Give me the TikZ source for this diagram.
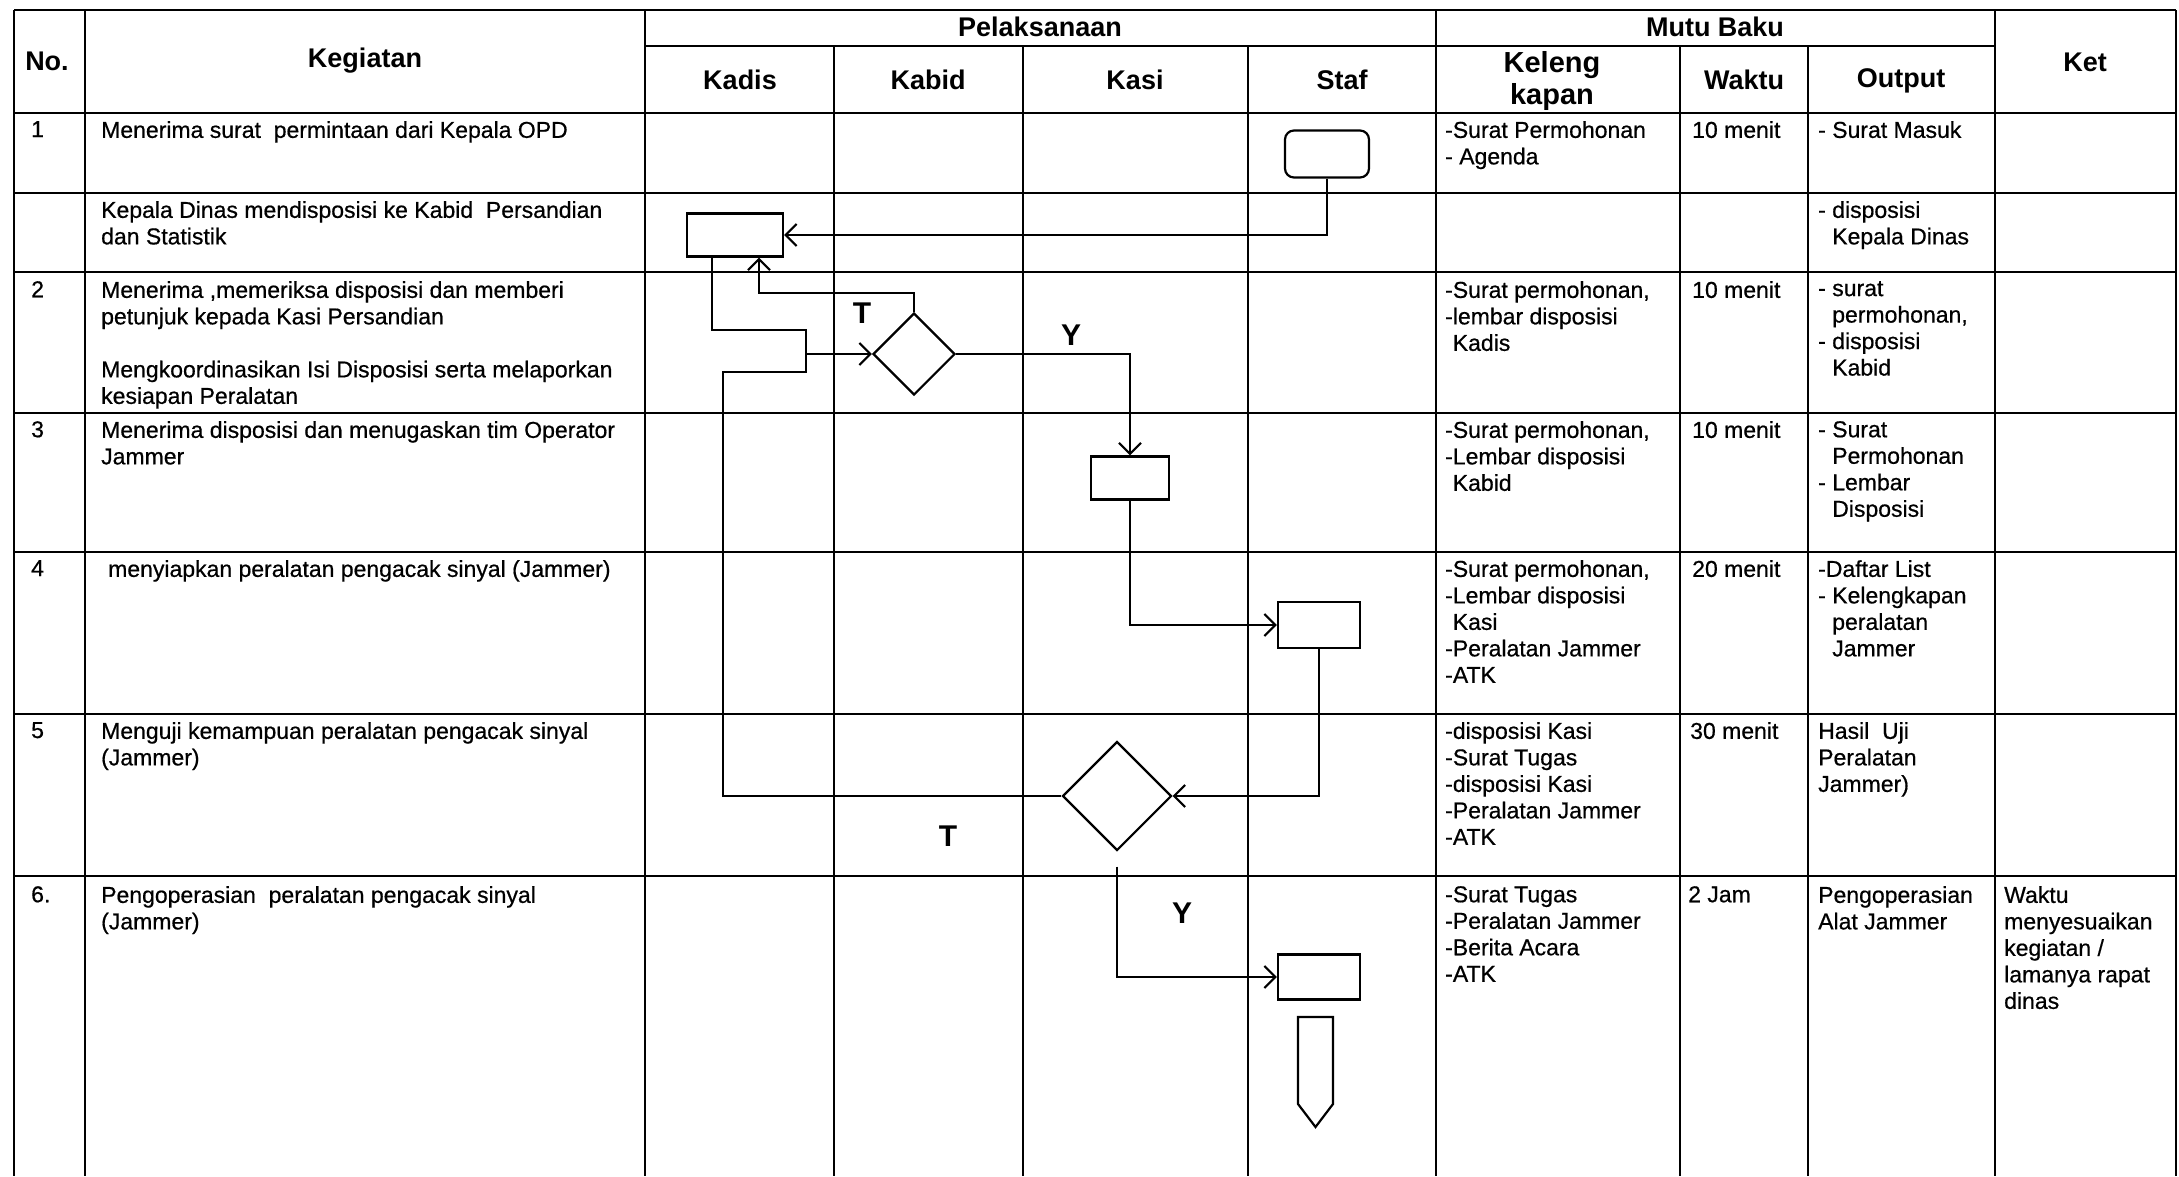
\documentclass[tikz,border=0pt]{standalone}
\usepackage{fontspec}
\setmainfont{Liberation Sans}
\newfontface\scanfont{Liberation Sans}[FakeBold=0.6]
\usetikzlibrary{arrows.meta,positioning,shapes.geometric}

\newcommand{\dashind}{\hspace*{0.61em}}
\newcommand{\hyind}{\hspace*{0.33em}}

\begin{document}
\begin{tikzpicture}[
  x=1pt, y=-1pt,
  grid/.style={line width=2.4pt},
  flow/.style={line width=2.2pt},
  arrow/.style={flow, -{Straight Barb[length=11pt, width=22pt]}},
  head/.style={font=\fontsize{27}{30}\selectfont\bfseries, align=center, inner sep=0pt},
  cell/.style={anchor=north west, align=left, inner sep=0pt, font=\fontsize{23}{26.5}\selectfont\scanfont},
  procbox/.style={draw, line width=2.2pt, inner sep=0pt, minimum width=80pt, minimum height=44pt},
  decision/.style={draw, diamond, line width=2.2pt, inner sep=0pt, minimum width=#1, minimum height=#1},
  startbox/.style={draw, rounded corners=9pt, line width=2.2pt, inner sep=0pt, minimum width=84pt, minimum height=47pt},
  lbl/.style={font=\fontsize{30}{32}\selectfont\bfseries, inner sep=0pt}
]
\useasboundingbox (0,0) rectangle (2179,1176);

% table grid
\draw[grid] (14,10) -- (2176,10);
\draw[grid] (645,46) -- (1995,46);
\draw[grid] (14,113) -- (2176,113) (14,193) -- (2176,193) (14,272) -- (2176,272)
  (14,413) -- (2176,413) (14,552) -- (2176,552) (14,714) -- (2176,714) (14,876) -- (2176,876);
\draw[grid] (14,10) -- (14,1176) (85,10) -- (85,1176) (645,10) -- (645,1176)
  (1436,10) -- (1436,1176) (1995,10) -- (1995,1176) (2176,10) -- (2176,1176);
\draw[grid] (834,46) -- (834,1176) (1023,46) -- (1023,1176) (1248,46) -- (1248,1176)
  (1680,46) -- (1680,1176) (1808,46) -- (1808,1176);

% header
\node[head] (hno) at (47,61) {No.};
\node[head] (hkeg) at (365,61) {Kegiatan};
\node[head] (hpel) at (1040,27) {Pelaksanaan};
\node[head] (hmutu) at (1715,27) {Mutu Baku};
\node[head] (hket) at (2085,62) {Ket};
\node[head] (hkadis) at (740,80) {Kadis};
\node[head] (hkabid) at (928,80) {Kabid};
\node[head] (hkasi) at (1135,80) {Kasi};
\node[head] (hstaf) at (1342,80) {Staf};
\node[head, font=\fontsize{29}{32}\selectfont\bfseries] (hkel) at (1552,81) {Keleng\\kapan};
\node[head] (hwaktu) at (1744,80) {Waktu};
\node[head] (houtput) at (1901,81) {Output};

% rows: no. and kegiatan
\node[cell] (no1) at (31,121) {1};
\node[cell] (keg1) at (101,121) {Menerima surat\ \ permintaan dari Kepala OPD};
\node[cell] (keg1b) at (101,201) {Kepala Dinas mendisposisi ke Kabid\ \ Persandian\\dan Statistik};
\node[cell] (no2) at (31,281) {2};
\node[cell] (keg2) at (101,281) {Menerima ,memeriksa disposisi dan memberi\\petunjuk kepada Kasi Persandian\\[26.5pt]Mengkoordinasikan Isi Disposisi serta melaporkan\\kesiapan Peralatan};
\node[cell] (no3) at (31,421) {3};
\node[cell] (keg3) at (101,421) {Menerima disposisi dan menugaskan tim Operator\\Jammer};
\node[cell] (no4) at (31,560) {4};
\node[cell] (keg4) at (108,560) {menyiapkan peralatan pengacak sinyal (Jammer)};
\node[cell] (no5) at (31,722) {5};
\node[cell] (keg5) at (101,722) {Menguji kemampuan peralatan pengacak sinyal\\(Jammer)};
\node[cell] (no6) at (31,886) {6.};
\node[cell] (keg6) at (101,886) {Pengoperasian\ \ peralatan pengacak sinyal\\(Jammer)};

% mutu baku
\node[cell] (kel1) at (1445,121) {-Surat Permohonan\\- Agenda};
\node[cell] (wak1) at (1692,121) {10 menit};
\node[cell] (out1) at (1818,121) {- Surat Masuk};
\node[cell] (out1b) at (1818,201) {- disposisi\\\dashind Kepala Dinas};
\node[cell] (kel2) at (1445,281) {-Surat permohonan,\\-lembar disposisi\\\hyind Kadis};
\node[cell] (wak2) at (1692,281) {10 menit};
\node[cell] (out2) at (1818,281) {- surat\\\dashind permohonan,\\- disposisi\\\dashind Kabid};
\node[cell] (kel3) at (1445,421) {-Surat permohonan,\\-Lembar disposisi\\\hyind Kabid};
\node[cell] (wak3) at (1692,421) {10 menit};
\node[cell] (out3) at (1818,421) {- Surat\\\dashind Permohonan\\- Lembar\\\dashind Disposisi};
\node[cell] (kel4) at (1445,560) {-Surat permohonan,\\-Lembar disposisi\\\hyind Kasi\\-Peralatan Jammer\\-ATK};
\node[cell] (wak4) at (1692,560) {20 menit};
\node[cell] (out4) at (1818,560) {-Daftar List\\- Kelengkapan\\\dashind peralatan\\\dashind Jammer};
\node[cell] (kel5) at (1445,722) {-disposisi Kasi\\-Surat Tugas\\-disposisi Kasi\\-Peralatan Jammer\\-ATK};
\node[cell] (wak5) at (1690,722) {30 menit};
\node[cell] (out5) at (1818,722) {Hasil\ \ Uji\\Peralatan\\Jammer)};
\node[cell] (kel6) at (1445,886) {-Surat Tugas\\-Peralatan Jammer\\-Berita Acara\\-ATK};
\node[cell] (wak6) at (1688,886) {2 Jam};
\node[cell] (out6) at (1818,886) {Pengoperasian\\Alat Jammer};
\node[cell] (ket6) at (2004,886) {Waktu\\menyesuaikan\\kegiatan /\\lamanya rapat\\dinas};

% flow
\node[startbox] (mulai) at (1327,154) {};
\node[procbox, minimum width=96pt, minimum height=43pt] (kadis) at (735,235) {};
\node[decision=82pt] (cekkabid) at (914,354) {};
\node[procbox, minimum width=78pt, minimum height=43pt] (kasi) at (1130,478) {};
\node[procbox, minimum width=82pt, minimum height=46pt] (siap) at (1319,625) {};
\node[decision=109pt] (uji) at (1117,796) {};
\node[procbox, minimum width=82pt, minimum height=45pt] (operasi) at (1319,977) {};
\coordinate (gabung) at (806,354);

\draw[arrow] (mulai.south) |- (kadis.east);
\draw[flow] ([xshift=-23pt]kadis.south) -- ++(0,72) -| (gabung);
\draw[arrow] (gabung) -- (cekkabid.west);
\draw[arrow] (cekkabid.north) -- ++(0,-19) -| ([xshift=24pt]kadis.south);
\draw[arrow] (cekkabid.east) -| (kasi.north);
\draw[arrow] (kasi.south) |- (siap.west);
\draw[arrow] (siap.south) |- (uji.east);
\draw[flow] (uji.west) -| (723,372) -| (gabung);
\draw[arrow, shorten <=15pt] (uji.south) |- (operasi.west);

% off-page connector
\draw[flow] (1298,1017) -- (1333,1017) -- (1333,1104) -- (1315.5,1127) -- (1298,1104) -- cycle;

\node[lbl] (t1) at (862,313) {T};
\node[lbl] (y1) at (1071,335) {Y};
\node[lbl] (t2) at (948,836) {T};
\node[lbl] (y2) at (1182,913) {Y};
\end{tikzpicture}
\end{document}
